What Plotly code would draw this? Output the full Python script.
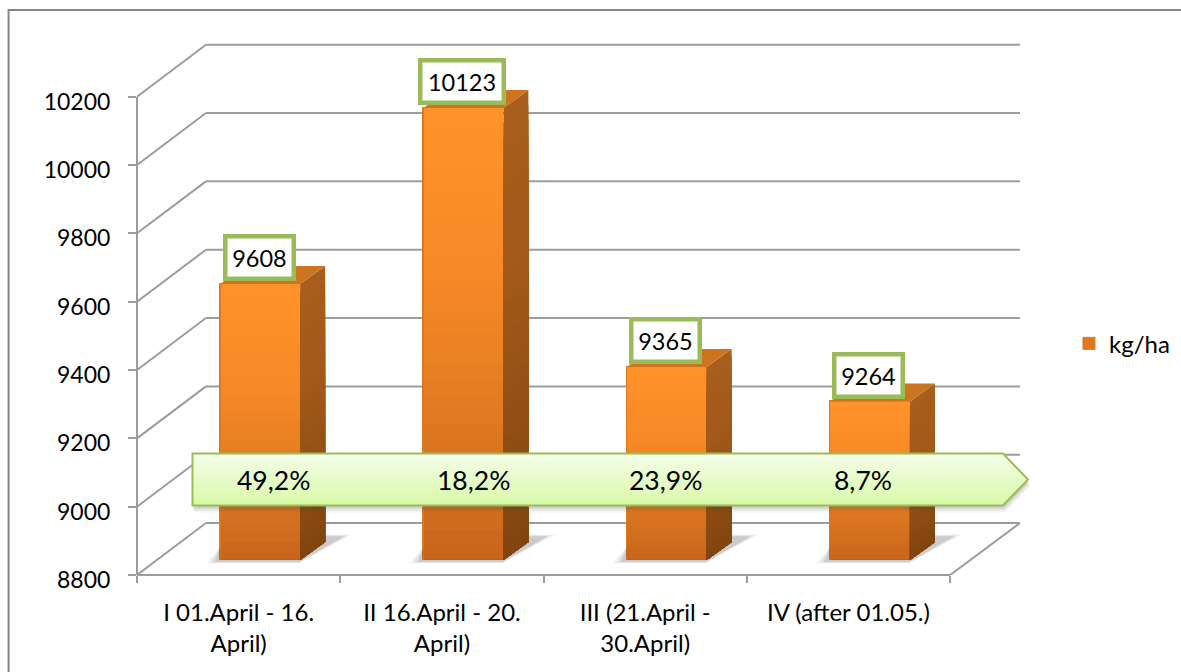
import plotly.graph_objects as go

categories = ["I 01.April - 16.<br>April)", "II 16.April - 20.<br>April)",
              "III (21.April -<br>30.April)", "IV (after 01.05.)"]
values = [9608, 10123, 9365, 9264]
shares = ["49,2%", "18,2%", "23,9%", "8,7%"]
share_px_x = [273, 473, 665, 863]
y_ticks = [8800, 9000, 9200, 9400, 9600, 9800, 10000, 10200]
series_name = "kg/ha"

W, H = 1181, 672
L, R, T, B = 136.5, 1020.0, 40.0, 575.5
CAT_PX = 203.4
PX_PER_UNIT = 0.342
Y0 = 8800
XMAX = (R - L) / CAT_PX
YMAX = Y0 + (B - T) / PX_PER_UNIT


def X(px):
    return (px - L) / CAT_PX


def Y(py):
    return Y0 + (B - py) / PX_PER_UNIT


def Pxy(px, py):
    return X(px), Y(py)


def PX(px):
    return (px - L) / (R - L)


def PY(py):
    return (B - py) / (B - T)


WALL_DX, WALL_DY = 69 / CAT_PX, 52 / PX_PER_UNIT
LIFT = 15 / PX_PER_UNIT
BAR_W = 80 / CAT_PX
BAR_SHIFT = 21.5 / CAT_PX
DX, DY = 25 / CAT_PX, 18 / PX_PER_UNIT
GRID = "#9C9C9C"
FONT = "Lato"
FS = 23


def lerp_hex(a, b, t):
    ca = [int(a[i:i + 2], 16) for i in (1, 3, 5)]
    cb = [int(b[i:i + 2], 16) for i in (1, 3, 5)]
    return "#%02X%02X%02X" % tuple(round(x + (y - x) * t) for x, y in zip(ca, cb))


def ramp(stops, t):
    for (t0, c0), (t1, c1) in zip(stops, stops[1:]):
        if t <= t1:
            return lerp_hex(c0, c1, (t - t0) / (t1 - t0))
    return stops[-1][1]


front_stops = [(0, "#FF9229"), (0.35, "#F88A26"), (0.7, "#DF7A21"), (1, "#C9661C")]
side_stops = [(0, "#A85E1C"), (0.4, "#A2591A"), (1, "#824510")]
N = 30
centers = [i + 0.5 + BAR_SHIFT for i in range(len(values))]

fig = go.Figure()

# full-height base bar carries the legend entry
fig.add_trace(go.Bar(
    x=centers, y=[v - Y0 for v in values], base=[Y0 + LIFT] * len(values), width=BAR_W,
    name=series_name, showlegend=True, hoverinfo="skip",
    marker=dict(color="#E0781F", line=dict(color="#D9781F", width=1))))

# each slice runs from the base up, tallest first, so no seams appear
for k in range(N):
    hi = 1 - k / N
    fig.add_trace(go.Bar(
        x=centers,
        y=[(v - Y0) * hi for v in values],
        base=[Y0 + LIFT] * len(values),
        width=BAR_W - 0.004, showlegend=False, hoverinfo="skip",
        marker=dict(color=ramp(front_stops, k / (N - 1)), line=dict(width=0))))

# floor shadows (left wedge and right wedge of every bar)
for grow, alpha in ((10, 0.07), (6, 0.11), (2, 0.16)):
    xs, ys = [], []
    for c in centers:
        px_l = L + (c - BAR_W / 2) * CAT_PX
        px_r = L + (c + BAR_W / 2) * CAT_PX
        polys = [
            [(px_l - 4 - grow, 562 + grow * .2), (px_l, 562 + grow * .2), (px_l, 549 - grow * .2)],
            [(px_l, 560), (px_r, 560), (px_r, 562 + grow * .2), (px_l, 562 + grow * .2)],
            [(px_r, 562 + grow * .1), (px_r + 42 + grow, 537 - grow * .2),
             (px_r + 20, 537 - grow * .2), (px_r, 552)],
        ]
        for poly in polys:
            for p in poly + [poly[0]]:
                a, b = Pxy(*p)
                xs.append(a)
                ys.append(b)
            xs.append(None)
            ys.append(None)
    fig.add_trace(go.Scatter(x=xs, y=ys, mode="lines", fill="toself", line=dict(width=0),
                             fillcolor=f"rgba(90,90,90,{alpha})", showlegend=False, hoverinfo="skip"))

# side faces
for k in range(N):
    hi = 1 - k / N
    xs, ys = [], []
    for c, v in zip(centers, values):
        xr = c + BAR_W / 2
        yt = Y0 + LIFT + (v - Y0) * hi
        yb = Y0 + LIFT
        xs += [xr, xr + DX, xr + DX, xr, xr, None]
        ys += [yt, yt + DY, yb + DY, yb, yt, None]
    fig.add_trace(go.Scatter(x=xs, y=ys, mode="lines", fill="toself", line=dict(width=0),
                             fillcolor=ramp(side_stops, k / (N - 1)), showlegend=False, hoverinfo="skip"))

# top faces
xs, ys = [], []
for c, v in zip(centers, values):
    xl, xr = c - BAR_W / 2, c + BAR_W / 2
    yt = v + LIFT
    xs += [xl, xl + DX, xr + DX, xr, xl, None]
    ys += [yt, yt + DY, yt + DY, yt, yt, None]
fig.add_trace(go.Scatter(x=xs, y=ys, mode="lines", fill="toself", line=dict(width=0),
                         fillcolor="#CC741F", showlegend=False, hoverinfo="skip"))

shapes = []


def line(x0, y0, x1, y1, color=GRID, width=2, layer="below"):
    shapes.append(dict(type="line", xref="x", yref="y", x0=x0, y0=y0, x1=x1, y1=y1,
                       line=dict(color=color, width=width), layer=layer))


for v in y_ticks:
    line(0, v, WALL_DX, v + WALL_DY)
    line(WALL_DX, v + WALL_DY, XMAX, v + WALL_DY)
line(len(values), Y0, XMAX, Y0 + WALL_DY)
# the category axis line sits on the plot edge: paper references keep it unclipped
shapes.append(dict(type="line", xref="paper", yref="paper", x0=0, y0=0, x1=len(values) / XMAX,
                   y1=0, line=dict(color=GRID, width=2), layer="below"))
# left wall edge as a closed thin path, kept in the upper layer to make sure it is painted
wall_top = (y_ticks[-1] - Y0) / (YMAX - Y0)
shapes.append(dict(type="path", xref="paper", yref="paper",
                   path=f"M {PX(135.5):.5f},0 L {PX(137.5):.5f},0 L {PX(137.5):.5f},{wall_top:.5f} L {PX(135.5):.5f},{wall_top:.5f} Z",
                   fillcolor=GRID, line=dict(width=0), layer="above"))

# arrow band, in paper coordinates so that its tip is not clipped
AL, AS, AT, AB, AR = 192, 1003, 454, 506, 1028
AM = (AT + AB) / 2


def arrow_path(top, bottom, dx=0, dy=0):
    def edge(py):
        return AR - abs(py - AM) * (AR - AS) / (AM - AT)
    pts = [(AL, top), (edge(top), top)]
    if top <= AM <= bottom:
        pts.append((AR, AM))
    pts += [(edge(bottom), bottom), (AL, bottom)]
    return "M" + " L".join(f"{PX(a + dx):.5f},{PY(b + dy):.5f}" for a, b in pts) + " Z"


for d, alpha in ((7, 0.06), (5, 0.08), (3, 0.12)):
    shapes.append(dict(type="path", xref="paper", yref="paper", path=arrow_path(AT, AB, d * .3, d),
                       fillcolor=f"rgba(70,70,70,{alpha})", line=dict(width=0), layer="above"))
SL = 26
for k in range(SL):
    t0 = AT + (AB - AT) * k / SL
    col = lerp_hex("#F4FDE9", "#D8F9A8", k / (SL - 1))
    shapes.append(dict(type="path", xref="paper", yref="paper", path=arrow_path(t0, AB),
                       fillcolor=col, line=dict(width=0), layer="above"))
shapes.append(dict(type="path", xref="paper", yref="paper", path=arrow_path(AT, AB),
                   fillcolor="rgba(0,0,0,0)", line=dict(color="#9BBB59", width=2), layer="above"))

# outer frame (open towards right and bottom, as cropped)
shapes.append(dict(type="path", xref="paper", yref="paper",
                   path=f"M {PX(8):.5f},{PY(H + 5):.5f} L {PX(8):.5f},{PY(10):.5f} L {PX(W + 5):.5f},{PY(10):.5f}",
                   line=dict(color="#868686", width=2), layer="below"))

annotations = []
for c, v in zip(centers, values):
    annotations.append(dict(
        x=c - 1 / CAT_PX, y=v + LIFT, xref="x", yref="y", yshift=26, text=str(v), showarrow=False,
        font=dict(family=FONT, size=23.5, color="#000000"), bgcolor="#FFFFFF",
        bordercolor="#9BBB59", borderwidth=4.5, borderpad=0,
        width=64 if v < 10000 else 79, height=38, align="center", valign="middle"))
for px, s in zip(share_px_x, shares):
    annotations.append(dict(
        x=X(px), y=Y(AM), xref="x", yref="y", text=s, showarrow=False,
        font=dict(family=FONT, size=26.5, color="#000000")))

fig.update_layout(
    width=W, height=H, barmode="overlay", bargap=0,
    margin=dict(l=L, r=W - R, t=T, b=H - B, autoexpand=False),
    paper_bgcolor="#FFFFFF", plot_bgcolor="rgba(0,0,0,0)",
    font=dict(family=FONT, size=FS, color="#000000"),
    shapes=shapes, annotations=annotations,
    legend=dict(x=(1069 - L) / (R - L), y=(B - 344) / (B - T), xanchor="left", yanchor="middle",
                font=dict(family=FONT, size=24), itemwidth=30, bgcolor="rgba(0,0,0,0)"),
    xaxis=dict(type="linear", range=[0, XMAX], tickmode="array",
               tickvals=[i + 0.5 for i in range(len(categories))], ticktext=categories,
               tickfont=dict(family=FONT, size=24), ticklabelstandoff=21,
               ticks="", showgrid=False, zeroline=False, showline=False,
               minor=dict(tickmode="array", tickvals=list(range(len(categories) + 1)),
                          ticks="outside", ticklen=7, tickwidth=2, tickcolor=GRID, showgrid=False)),
    yaxis=dict(type="linear", range=[Y0, YMAX], tickmode="array", tickvals=y_ticks,
               ticktext=[str(v) for v in y_ticks], ticks="outside", ticklen=8, tickwidth=2,
               tickfont=dict(family=FONT, size=FS), ticklabelstandoff=13, ticklabelshift=5,
               tickcolor=GRID, showgrid=False, zeroline=False, showline=False),
)

fig.write_html("out.html", config=dict(displayModeBar=False),
               post_script="document.body.style.margin='0';document.documentElement.style.overflow='hidden';")
